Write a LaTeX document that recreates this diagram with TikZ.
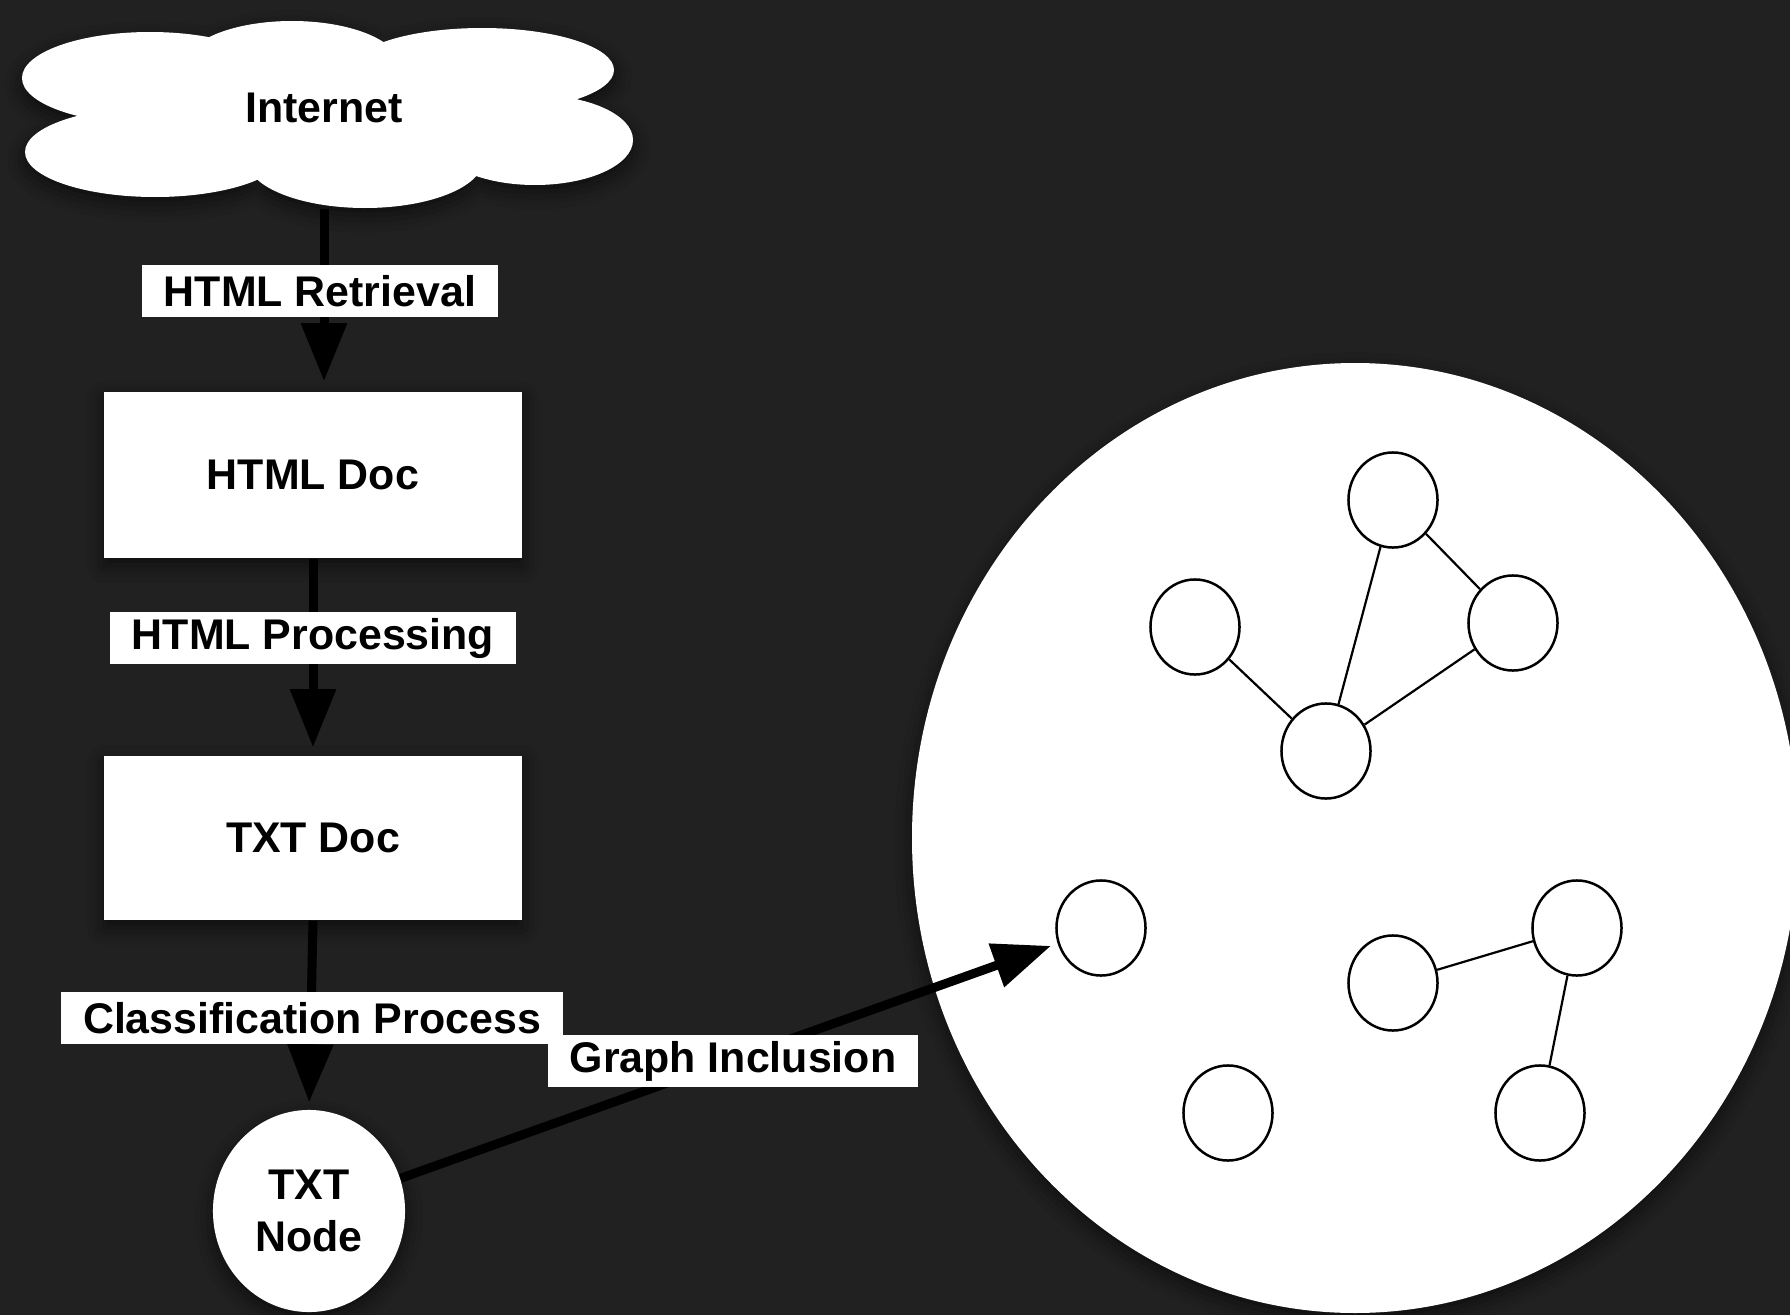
\documentclass[tikz,border=0pt]{standalone}
\usepackage{fontspec}
\setmainfont{Liberation Sans}
\usetikzlibrary{arrows.meta,shapes.geometric,shadows.blur}
\definecolor{bg}{RGB}{33,33,33}
\newcommand\lblfont{\bfseries\fontsize{12.2}{15}\selectfont}
\tikzset{
  sh/.style={blur shadow={shadow xshift=0pt,shadow yshift=-2pt,shadow blur radius=5pt,shadow opacity=60}},
  lbl/.style={fill=white, inner xsep=0.22cm, inner ysep=0pt, minimum height=0.52cm, font=\lblfont},
  boxnode/.style={rectangle, fill=white, minimum width=4.17cm, sh, font=\lblfont},
  gnode/.style={ellipse, draw=black, fill=white, line width=0.025cm, minimum width=0.89cm, minimum height=0.95cm, inner sep=0pt},
  gedge/.style={draw=black, line width=0.022cm},
  arr/.style={draw=black, line width=0.09cm, -{Triangle[length=0.58cm,width=0.44cm]}},
}
\begin{document}
\begin{tikzpicture}[x=0.01cm,y=-0.01cm]
\useasboundingbox (0,0) rectangle (1790,1315);
\fill[bg] (0,0) rectangle (1790,1315);
\clip (0,0) rectangle (1790,1315);

% cloud
\fill[white, sh]
  (292,66) ellipse [x radius=108, y radius=45]
  (150,78) ellipse [x radius=128, y radius=46]
  (482,70) ellipse [x radius=132, y radius=42]
  (155,152) ellipse [x radius=130, y radius=45]
  (365,160) ellipse [x radius=118, y radius=48]
  (535,140) ellipse [x radius=98, y radius=45]
  (330,115) ellipse [x radius=240, y radius=65];
\node[font=\lblfont, minimum height=2.0cm, minimum width=1cm, inner sep=0pt] (internet) at (324,108) {Internet};

% big graph space
\fill[white, sh] (1355,838) ellipse [x radius=443, y radius=475];

% graph nodes
\node[gnode] (a) at (1393,500) {};
\node[gnode] (b) at (1195,627) {};
\node[gnode] (c) at (1513,623) {};
\node[gnode] (d) at (1326,751) {};
\node[gnode] (e) at (1101,928) {};
\node[gnode] (f) at (1393,983) {};
\node[gnode] (g) at (1577,928) {};
\node[gnode] (h) at (1228,1113) {};
\node[gnode] (i) at (1540,1113) {};
\draw[gedge] (a) -- (c);
\draw[gedge] (a) -- (d);
\draw[gedge] (b) -- (d);
\draw[gedge] (c) -- (d);
\draw[gedge] (f) -- (g);
\draw[gedge] (g) -- (i);

% left column
\node[boxnode, minimum height=1.66cm] (htmldoc) at (313,475) {HTML Doc};
\node[boxnode, minimum height=1.64cm] (txtdoc) at (313,838) {TXT Doc};
\node[ellipse, fill=white, sh, minimum width=1.92cm, minimum height=2.02cm, inner sep=0pt, align=center, font=\lblfont] (txtnode) at (309,1211) {TXT\\Node};

% connectors
\draw[arr, shorten >=0.1cm] (internet.south) -- (internet.south |- htmldoc.north);
\draw[arr, shorten >=0.08cm] (htmldoc.south) -- (txtdoc.north);
\draw[arr, shorten >=0.07cm] (txtdoc.south) -- (txtnode.north);
\draw[arr, shorten >=0.07cm] (txtnode) -- (e);

% labels
\node[lbl] (l1) at (320,291) {HTML Retrieval};
\node[lbl] (l2) at (313,638) {HTML Processing};
\node[lbl] (l3) at (312,1018) {Classification Process};
\node[lbl] (l4) at (733,1061) {Graph Inclusion};
\end{tikzpicture}
\end{document}
